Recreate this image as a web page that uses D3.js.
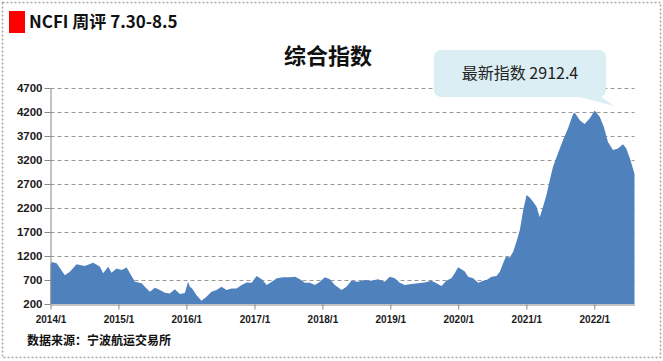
<!DOCTYPE html>
<html>
<head>
<meta charset="utf-8">
<script src="https://cdn.jsdelivr.net/npm/d3@7"></script>
<style>
  body { margin: 0; background: #fff; }
  svg text { font-family: "Noto Sans CJK SC", "Liberation Sans", sans-serif; }
</style>
</head>
<body>
<svg id="chart" width="663" height="361"></svg>
<script>
// <--Data--> //
var dates = ["2014-01-01","2014-01-07","2014-02-03","2014-03-19","2014-04-15","2014-05-21","2014-07-04","2014-08-18","2014-09-23","2014-10-11","2014-11-07","2014-11-25","2014-12-22",
  "2015-01-18","2015-02-14","2015-03-04","2015-03-31","2015-05-06","2015-05-23","2015-06-19","2015-07-16","2015-08-12","2015-09-08","2015-10-04","2015-10-31","2015-11-27","2015-12-24",
  "2016-01-10","2016-01-20","2016-02-01","2016-02-24","2016-03-22","2016-04-18","2016-05-15","2016-06-11","2016-07-08","2016-08-04","2016-08-31","2016-09-27","2016-10-24","2016-11-20","2016-12-17",
  "2017-01-13","2017-02-09","2017-03-08","2017-04-04","2017-05-01","2017-06-05","2017-07-10","2017-08-07","2017-09-02","2017-09-29","2017-10-26","2017-11-22","2017-12-19",
  "2018-01-14","2018-02-10","2018-03-09","2018-04-14","2018-05-10","2018-06-06","2018-07-11","2018-08-16","2018-09-21","2018-10-27","2018-12-02","2018-12-29",
  "2019-01-25","2019-02-21","2019-03-19","2019-04-25","2019-05-30","2019-07-04","2019-08-10","2019-09-06","2019-10-03","2019-10-29","2019-11-25","2019-12-13","2019-12-31",
  "2020-01-18","2020-02-05","2020-02-23","2020-03-21","2020-04-17","2020-05-14","2020-06-01","2020-06-28","2020-07-25","2020-08-12","2020-08-29","2020-09-13","2020-10-04","2020-10-22","2020-11-09","2020-11-27","2020-12-15",
  "2021-01-02","2021-01-19","2021-02-06","2021-02-24","2021-03-14","2021-04-01","2021-04-19","2021-05-07","2021-05-24","2021-06-20","2021-07-17","2021-08-13","2021-09-09","2021-09-18","2021-10-15","2021-11-10","2021-12-08",
  "2022-01-03","2022-01-30","2022-02-21","2022-03-15","2022-04-11","2022-05-08","2022-06-04","2022-06-22","2022-07-14","2022-08-05"];
var values = [1000,1075,1050,800,870,1030,990,1060,980,840,975,850,940,
  910,960,840,665,630,560,455,540,490,435,420,505,410,430,
  665,560,525,390,270,350,455,490,560,490,525,525,595,650,645,
  785,715,595,665,735,755,755,770,715,645,645,595,665,
  755,715,595,490,560,685,665,700,685,715,665,770,
  735,645,595,615,630,650,685,630,575,685,735,840,965,
  925,875,770,735,645,685,700,770,785,875,1050,1185,1170,1290,1500,1740,2160,
  2470,2420,2330,2230,2005,2230,2470,2785,3060,3340,3615,3860,4160,4185,4030,3950,4070,
  4230,4100,3895,3580,3410,3440,3530,3440,3200,2912.4];
var yTicks = [200,700,1200,1700,2200,2700,3200,3700,4200,4700];
var xTickLabels = ["2014/1","2015/1","2016/1","2017/1","2018/1","2019/1","2020/1","2021/1","2022/1"];
var latest = "最新指数 2912.4";

var parse = d3.timeParse("%Y-%m-%d");
var data = dates.map(function(d, i) { return { date: parse(d), value: values[i] }; });

var svg = d3.select("#chart");
var plotL = 50.5, plotR = 634.5, plotT = 88, plotB = 304;

var x = d3.scaleTime()
  .domain([parse("2014-01-01"), parse("2022-08-05")])
  .range([plotL, plotR]);
var y = d3.scaleLinear().domain([200, 4700]).range([plotB, plotT]);

// dotted frame
svg.append("rect")
  .attr("x", 2.5).attr("y", 2.5).attr("width", 658).attr("height", 355)
  .attr("fill", "none").attr("stroke", "#a6a6a6").attr("stroke-width", 1.5)
  .attr("stroke-dasharray", "2,2");

// header
svg.append("rect").attr("x", 9).attr("y", 11).attr("width", 16).attr("height", 22).attr("fill", "#ff0000");
svg.append("text").attr("x", 29).attr("y", 28)
  .attr("font-size", 17).attr("font-weight", "bold").attr("fill", "#111")
  .text("NCFI 周评 7.30-8.5");

svg.append("text").attr("x", 328).attr("y", 64).attr("text-anchor", "middle")
  .attr("font-size", 22).attr("font-weight", "bold").attr("fill", "#111")
  .text("综合指数");

// gridlines
svg.append("g").selectAll("line")
  .data(yTicks.slice(1))
  .enter().append("line")
  .attr("x1", plotL).attr("x2", plotR)
  .attr("y1", function(d) { return y(d) + 0.5; })
  .attr("y2", function(d) { return y(d) + 0.5; })
  .attr("stroke", "#999").attr("stroke-dasharray", "4,3");

// area
var area = d3.area()
  .x(function(d) { return x(d.date); })
  .y0(y(200))
  .y1(function(d) { return y(d.value); });

svg.append("path").datum(data)
  .attr("d", area)
  .attr("fill", "#4f81bd");

// y axis
var yAxis = svg.append("g")
  .attr("transform", "translate(" + plotL + ",0)")
  .call(d3.axisLeft(y).tickValues(yTicks).tickFormat(d3.format("d"))
    .tickSize(6).tickSizeOuter(0).tickPadding(2));
yAxis.select(".domain").attr("stroke", "#868686");
yAxis.selectAll(".tick line").attr("stroke", "#868686");
yAxis.selectAll("text")
  .attr("font-size", 11.5).attr("font-weight", "bold").attr("fill", "#1a1a1a")
  .style("font-family", "'Liberation Sans', sans-serif");

// x axis
var xTickDates = xTickLabels.map(function(s) { return d3.timeParse("%Y/%m")(s); });
var xAxis = svg.append("g")
  .attr("transform", "translate(0," + (plotB + 0.5) + ")")
  .call(d3.axisBottom(x).tickValues(xTickDates).tickSize(5).tickSizeOuter(0).tickPadding(6)
    .tickFormat(function(d, i) { return xTickLabels[i]; }));
xAxis.select(".domain").attr("stroke", "#868686");
xAxis.selectAll(".tick line").attr("stroke", "#868686");
xAxis.selectAll("text")
  .attr("font-size", 10).attr("font-weight", "bold").attr("fill", "#1a1a1a")
  .style("font-family", "'Liberation Sans', sans-serif");

// source
svg.append("text").attr("x", 27).attr("y", 345)
  .attr("font-size", 12).attr("font-weight", "bold").attr("fill", "#111")
  .text("数据来源：宁波航运交易所");

// callout
var callout = svg.append("g");
callout.append("path")
  .attr("d", "M575,96 L614,106 L600,96 Z")
  .attr("fill", "#daeef3");
callout.append("rect")
  .attr("x", 434).attr("y", 50).attr("width", 172).attr("height", 47).attr("rx", 7)
  .attr("fill", "#daeef3");
callout.append("text").attr("x", 520).attr("y", 79).attr("text-anchor", "middle")
  .attr("font-size", 16).attr("fill", "#222")
  .text(latest);
</script>
</body>
</html>
